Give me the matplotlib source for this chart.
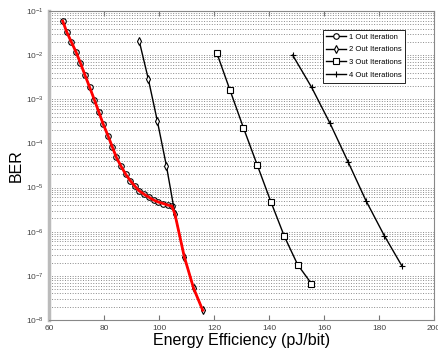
import numpy as np
from matplotlib import pyplot as plt

# 1 out iteration
x_1 = [65.0, 66.4, 68.1, 69.8, 71.4, 73.1, 74.8, 76.5, 78.1, 79.7, 81.5, 83.0, 84.5,
       86.2, 87.9, 89.6, 91.2, 92.8, 94.5, 96.4, 98.1, 99.7, 101.5, 103.2, 104.7]
ber_1 = [5.9e-2, 3.4e-2, 2.0e-2, 1.19e-2, 6.7e-3, 3.5e-3, 1.86e-3, 9.7e-4, 5.2e-4,
         2.74e-4, 1.47e-4, 8.4e-5, 4.8e-5, 3.05e-5, 2.0e-5, 1.42e-5, 1.08e-5, 8.4e-6,
         7.1e-6, 6.0e-6, 5.2e-6, 4.7e-6, 4.35e-6, 4.0e-6, 3.8e-6]
# 2 out iterations
x_2 = [92.8, 96.1, 99.4, 102.7, 105.8, 109.2, 112.6, 115.9]
ber_2 = [2.1e-2, 2.9e-3, 3.2e-4, 3.1e-5, 2.5e-6, 2.7e-7, 5.2e-8, 1.66e-8]
# 3 out iterations
x_3 = [121.0, 125.8, 130.7, 135.7, 140.7, 145.6, 150.4, 155.4]
ber_3 = [1.13e-2, 1.62e-3, 2.26e-4, 3.27e-5, 4.74e-6, 7.8e-7, 1.8e-7, 6.7e-8]
# 4 out iterations
x_4 = [148.6, 155.5, 162.2, 168.8, 175.3, 181.9, 188.4]
ber_4 = [1.0e-2, 1.86e-3, 2.84e-4, 3.77e-5, 4.99e-6, 8.2e-7, 1.65e-7]

labels = ["1 Out Iteration", "2 Out Iterations", "3 Out Iterations", "4 Out Iterations"]

# best curve: 1 iteration then 2 iterations
best_x = x_1 + x_2[4:]
best_ber = ber_1 + ber_2[4:]

plt.rcParams['font.family'] = ['Liberation Sans', 'DejaVu Sans']
fig = plt.figure(figsize=(4.39, 3.52), dpi=100)
ax = fig.add_axes([0.1116, 0.0909, 0.877, 0.878])

ax.plot(x_1, ber_1, '-o', color='black', lw=1, ms=4, mfc='white', mew=0.8, label=labels[0])
ax.plot(x_2, ber_2, '-d', color='black', lw=1, ms=4, mfc='white', mew=0.8, label=labels[1])
ax.plot(x_3, ber_3, '-s', color='black', lw=1, ms=5, mfc='white', mew=0.8, label=labels[2])
ax.plot(x_4, ber_4, '-+', color='black', lw=1, ms=5, mew=0.8, label=labels[3])
ax.plot(best_x, best_ber, '-', color='red', lw=2)

ax.set_yscale('log')
ax.set_xlim(60, 200)
ax.set_ylim(1e-8, 1e-1)
ax.set_xticks(np.arange(60, 201, 20))
ax.yaxis.grid(True, which='both', linestyle=':', color='#8a8a8a', lw=0.7)
ax.tick_params(which='both', direction='in', labelsize=6, colors='#777777',
               labelcolor='#444444', top=True, right=True)
ax.tick_params(which='minor', length=0)
ax.tick_params(axis='y', which='major', length=0)
for s in ax.spines.values():
    s.set_color('#888888')
ax.spines['left'].set_color('#bbbbbb')
ax.spines['left'].set_linewidth(2.5)

ax.set_xlabel("Energy Efficiency (pJ/bit)", fontsize=11.5, labelpad=1)
ax.set_ylabel("BER", fontsize=11.5, labelpad=2)

leg = ax.legend(loc='upper right', bbox_to_anchor=(0.935, 0.952), fontsize=5.5,
                fancybox=False, edgecolor='black', framealpha=1, handlelength=2.6,
                handletextpad=0.3, borderpad=0.5, labelspacing=0.7)
leg.get_frame().set_linewidth(0.6)

plt.savefig("out.png", dpi=100)
